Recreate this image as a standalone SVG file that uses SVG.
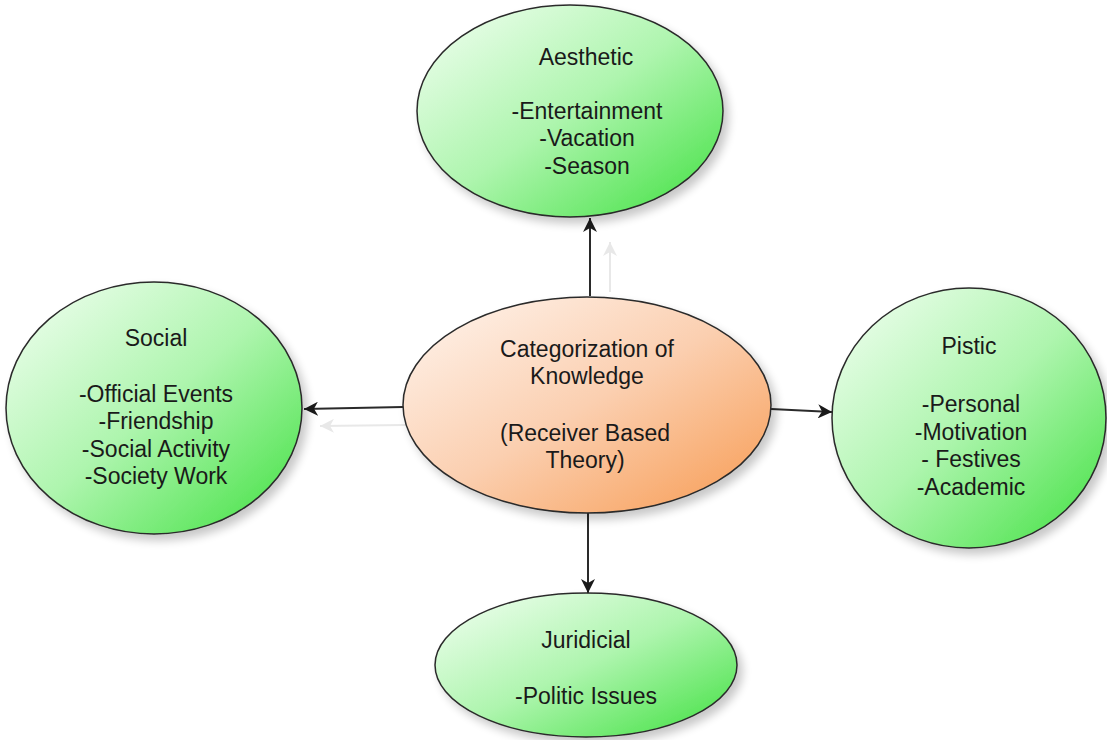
<svg xmlns="http://www.w3.org/2000/svg" width="1107" height="740" viewBox="0 0 1107 740">
<style>
.node{stroke:#2a2a2a;stroke-width:1.5}
.green{fill:url(#gGreen)}
.orange{fill:url(#gOrange)}
text{font-family:"Liberation Sans",Arial,sans-serif;font-size:23px;fill:#1a1a1a;text-anchor:middle}
.conn{stroke:#2a2a2a;stroke-width:2;fill:none;marker-end:url(#arr)}
.ghost{stroke:#e8e8e8;stroke-width:2;fill:none;marker-end:url(#arrG)}
</style>
<defs>
<linearGradient id="gGreen" x1="0" y1="0" x2="1" y2="1">
<stop offset="0" stop-color="#f4fff4"/>
<stop offset="0.5" stop-color="#aef5ae"/>
<stop offset="1" stop-color="#3ee03e"/>
</linearGradient>
<linearGradient id="gOrange" x1="0" y1="0" x2="1" y2="1">
<stop offset="0" stop-color="#fff6f0"/>
<stop offset="0.5" stop-color="#fbcfb0"/>
<stop offset="1" stop-color="#f79a50"/>
</linearGradient>
<filter id="sh" x="-20%" y="-20%" width="150%" height="150%">
<feGaussianBlur in="SourceAlpha" stdDeviation="5"/>
<feOffset dx="5" dy="6" result="b"/>
<feComponentTransfer><feFuncA type="linear" slope="0.22"/></feComponentTransfer>
<feMerge><feMergeNode/><feMergeNode in="SourceGraphic"/></feMerge>
</filter>
<marker id="arr" markerWidth="16" markerHeight="14" refX="14" refY="7" orient="auto" markerUnits="userSpaceOnUse">
<path d="M0,0 L14,7 L0,14 L4,7 Z" fill="#1a1a1a"/>
</marker>
<marker id="arrG" markerWidth="16" markerHeight="14" refX="14" refY="7" orient="auto" markerUnits="userSpaceOnUse">
<path d="M0,0 L14,7 L0,14 L4,7 Z" fill="#e8e8e8"/>
</marker>
</defs>
<rect width="1107" height="740" fill="#ffffff"/>
<g id="connectors">
<path class="ghost" d="M610,292 L610,242"/>
<path class="ghost" d="M405,425 L320,426"/>
<path class="conn" d="M590,296 L590,218"/>
<path class="conn" d="M403,407 L304,409"/>
<path class="conn" d="M771,409 L832,412"/>
<path class="conn" d="M588,513 L588,593"/>
</g>
<g id="aesthetic">
<ellipse class="node green" filter="url(#sh)" cx="570" cy="111" rx="153" ry="106"/>
<text x="586" y="65">Aesthetic</text>
<text x="587" y="119">-Entertainment</text>
<text x="587" y="146">-Vacation</text>
<text x="587" y="174">-Season</text>
</g>
<g id="center">
<ellipse class="node orange" filter="url(#sh)" cx="587" cy="405" rx="184" ry="108"/>
<text x="587" y="357">Categorization of</text>
<text x="587" y="384">Knowledge</text>
<text x="585" y="441">(Receiver Based</text>
<text x="585" y="468">Theory)</text>
</g>
<g id="social">
<ellipse class="node green" filter="url(#sh)" cx="154" cy="408" rx="148" ry="126"/>
<text x="156" y="346">Social</text>
<text x="156" y="402">-Official Events</text>
<text x="156" y="429">-Friendship</text>
<text x="156" y="457">-Social Activity</text>
<text x="156" y="484">-Society Work</text>
</g>
<g id="pistic">
<ellipse class="node green" filter="url(#sh)" cx="969" cy="418" rx="137" ry="130"/>
<text x="969" y="354">Pistic</text>
<text x="971" y="412">-Personal</text>
<text x="971" y="440">-Motivation</text>
<text x="971" y="467">- Festives</text>
<text x="971" y="495">-Academic</text>
</g>
<g id="juridicial">
<ellipse class="node green" filter="url(#sh)" cx="586" cy="665" rx="151" ry="72"/>
<text x="586" y="648">Juridicial</text>
<text x="586" y="704">-Politic Issues</text>
</g>
</svg>
